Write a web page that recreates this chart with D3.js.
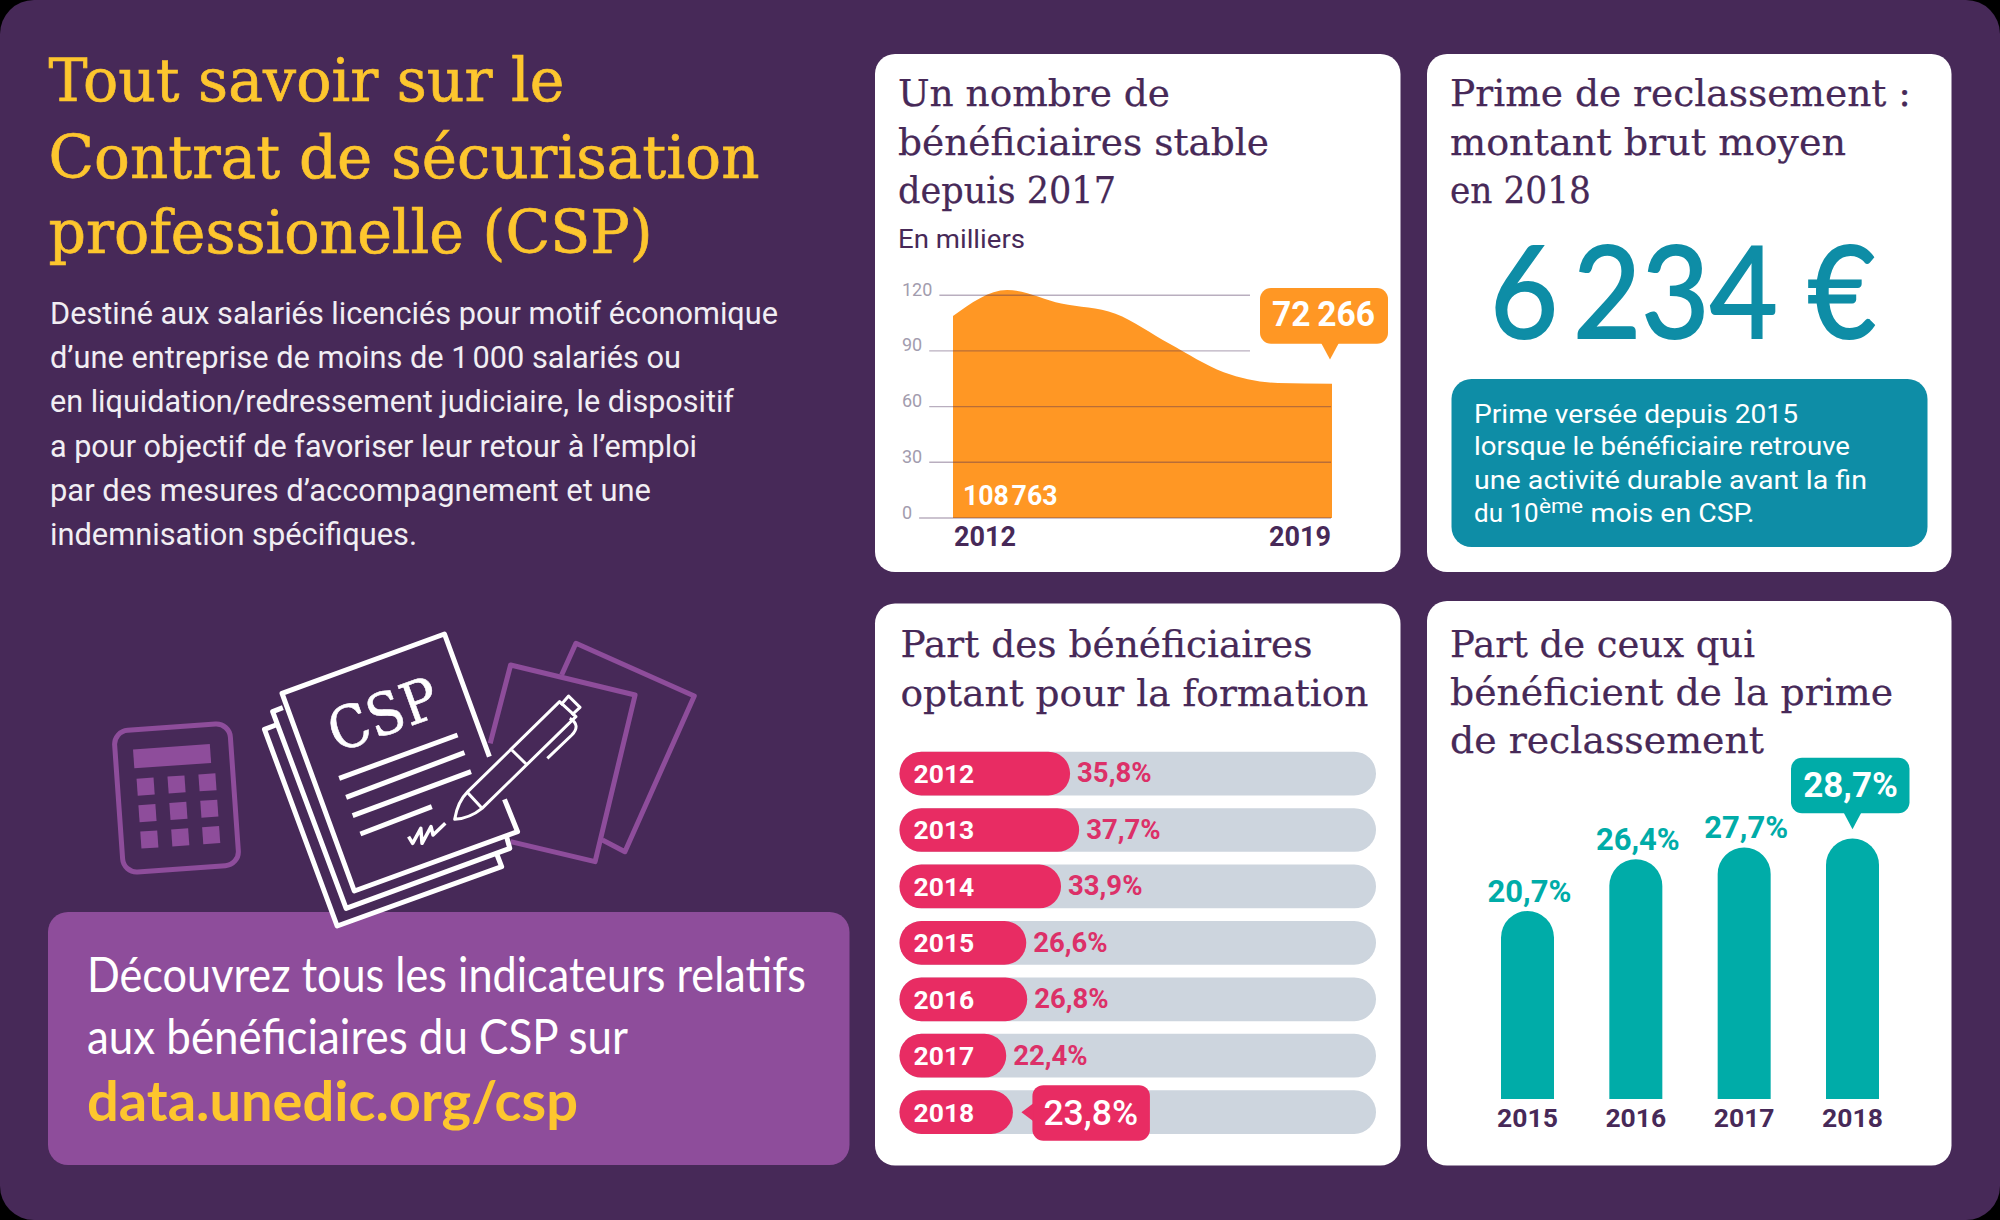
<!DOCTYPE html>
<html lang="fr"><head><meta charset="utf-8">
<style>html,body{margin:0;padding:0;background:#000}svg{display:block}text{white-space:pre}</style>
<script src="https://cdn.jsdelivr.net/npm/d3@7"></script></head>
<body><svg id="c" width="2000" height="1220" xmlns="http://www.w3.org/2000/svg"></svg>
<script>
// ---- data ----
const areaYears = [2012,2013,2014,2015,2016,2017,2018,2019];
const areaValues = [108.763,122.8,115.5,110,93.8,78.5,72.7,72.266];
const areaTicks = [0,30,60,90,120];
const formationYears = ["2012","2013","2014","2015","2016","2017","2018"];
const formationValues = [35.8,37.7,33.9,26.6,26.8,22.4,23.8];
const repriseYears = ["2015","2016","2017","2018"];
const repriseValues = [20.7,26.4,27.7,28.7];
const fmt = v => String(v).replace(".",",")+"%";

const C = {bg:"#472958",gold:"#fdc62e",violet:"#8e4d9b",orange:"#ff9724",pink:"#e82c63",pinkT:"#dc3068",
           track:"#cdd5de",teal:"#00aca8",blue:"#0e8da6",tick:"#a29cae"};
const ROBOTO="Roboto", SLAB="'DejaVu Serif'", ROUND="Lato";
const svg = d3.select("#c");

function T(g,s,x,y,o={}){
  const t=g.append("text").attr("x",x).attr("y",y).text(s)
    .attr("font-family",o.f||ROBOTO).attr("font-size",o.s||26).attr("font-weight",o.w||400)
    .attr("fill",o.c||C.bg).attr("text-anchor",o.a||"start");
  if(o.len) t.attr("textLength",o.len).attr("lengthAdjust","spacingAndGlyphs");
  if(o.sw) t.attr("stroke",o.c||C.bg).attr("stroke-width",o.sw);
  return t;
}
const card=(x0,y0,x1,y1)=>svg.append("rect").attr("x",x0).attr("y",y0).attr("width",x1-x0).attr("height",y1-y0).attr("rx",20).attr("fill","#fff");

// frame
svg.append("rect").attr("width",2000).attr("height",1220).attr("rx",34).attr("fill",C.bg);

// ---- left column ----
const left=svg.append("g");
[["Tout savoir sur le",100.5,516],["Contrat de sécurisation",177.5,711],["professionelle (CSP)",252.5,604]]
 .forEach(([s,y,l])=>T(left,s,48.5,y,{f:SLAB,s:60,c:C.gold,len:l,sw:.7}));
[["Destiné aux salariés licenciés pour motif économique",324,728],
 ["d’une entreprise de moins de 1\u2009000 salariés ou",367.5,631],
 ["en liquidation/redressement judiciaire, le dispositif",412,684],
 ["a pour objectif de favoriser leur retour à l’emploi",456.5,647],
 ["par des mesures d’accompagnement et une",501,601],
 ["indemnisation spécifiques.",545,367]]
 .forEach(([s,y,l])=>T(left,s,50,y,{s:30.5,c:"#f1eef3",w:400,len:l}));

// CTA
svg.append("rect").attr("x",48).attr("y",912).attr("width",801.5).attr("height",253).attr("rx",20).attr("fill",C.violet);
T(svg,"Découvrez tous les indicateurs relatifs",87,992,{f:ROUND,s:48,c:"#fff",len:719});
T(svg,"aux bénéficiaires du CSP sur",87,1054,{f:ROUND,s:48,c:"#fff",len:541});
T(svg,"data.unedic.org/csp",87,1121,{f:ROUND,s:56,w:700,c:C.gold,len:491});

// ---- illustration ----
const ns=a=>a.attr("vector-effect","non-scaling-stroke");
const ill=svg.append("g").attr("transform","translate(80,610) scale(0.40816,0.33333)");
const P=(d,st,w,fill)=>ns(ill.append("path").attr("d",d).attr("fill",fill||"none").attr("stroke",st).attr("stroke-width",w).attr("stroke-linejoin","round").attr("stroke-linecap","butt"));
// calculator
const calc=svg.append("g").attr("transform","translate(176.5,798) rotate(-4)");
calc.append("rect").attr("x",-58).attr("y",-71).attr("width",116).attr("height",142).attr("rx",14).attr("fill","none").attr("stroke",C.violet).attr("stroke-width",5);
calc.append("rect").attr("x",-40).attr("y",-51.5).attr("width",77).attr("height",19).attr("fill",C.violet);
[-30,1,32].forEach(x=>[-13.5,13,39.5].forEach(y=>calc.append("rect").attr("x",x-8.5).attr("y",y-8.5).attr("width",17).attr("height",17).attr("fill",C.violet)));
// back sheets
P("M1180,195 L1215,100 L1505,258 L1335,725 L1280,690",C.violet,5);
P("M1005,400 L1055,165 L1360,255 L1262,755 L1055,695",C.violet,5);
// pages
P("M480,345 L452,358 L630,948 L1033,770 L1022,735",  "#fff",5,C.bg);
P("M497,293 L472,305 L652,895 L1053,715 L1045,680",  "#fff",5,C.bg);
P("M1003,440 L893,72 L495,250 L672,843 L1072,665 L1040,568","#fff",5,C.bg);
[[635,505,925,375],[652,562,942,428],[668,617,958,485],[687,672,862,590]]
 .forEach(([a,b,c,d])=>P(`M${a},${b} L${c},${d}`,"#fff",5));
P("M805,680 L815,700 L835,655 L838,700 L860,650 L865,675 L895,640","#fff",3.5);
T(svg,"CSP",337,753,{f:SLAB,s:58,c:"#fff",sw:.6}).attr("transform","rotate(-20 337 753)").attr("textLength",113).attr("lengthAdjust","spacingAndGlyphs");
// pen
P("M918,628 Q925,575 950,545 L1175,275 L1215,320 L985,595 Q955,625 918,628 Z","#fff",3,C.bg);
P("M950,548 L985,595 M1058,420 L1093,462 M1178,285 L1197,258 L1225,292 L1205,315 M1200,325 Q1228,345 1205,375 L1145,445","#fff",3);

// ---- card 1 : area ----
card(875,54,1400.5,572);
const c1=svg.append("g");
[["Un nombre de",106,272],["bénéficiaires stable",154.5,371],["depuis 2017",202.5,218]]
 .forEach(([s,y,l])=>T(c1,s,898,y,{f:SLAB,s:38,len:l,sw:.25}));
T(c1,"En milliers",898,247.5,{s:26,len:127});
const xA=d3.scaleLinear().domain([2012,2019]).range([953,1332]);
const yA=d3.scaleLinear().domain([0,120]).range([518,295.2]);
const area=d3.area().x((d,i)=>xA(areaYears[i])).y0(yA(0)).y1(d=>yA(d)).curve(d3.curveMonotoneX);
c1.append("path").attr("d",area(areaValues)).attr("fill",C.orange);
areaTicks.forEach(t=>{
  const lab=T(c1,String(t),902,yA(t)+0.5,{s:18,c:C.tick});
  const w=lab.node().getComputedTextLength();
  const x2=t>=90?1250:1331;
  c1.append("line").attr("x1",902+w+7).attr("x2",x2).attr("y1",yA(t)).attr("y2",yA(t))
    .attr("stroke",C.bg).attr("stroke-opacity",.38).attr("stroke-width",1.4);
});
T(c1,"108\u200a763",963,505,{s:28,w:700,c:"#fff",len:94.5});
T(c1,String(areaYears[0]),954,545.5,{s:27,w:700});
T(c1,String(areaYears[7]),1331,545.5,{s:27,w:700,a:"end"});
function bubble(g,x0,y0,x1,y1,fill,side,tx,ty){
  g.append("rect").attr("x",x0).attr("y",y0).attr("width",x1-x0).attr("height",y1-y0).attr("rx",11).attr("fill",fill);
  const d=side==="down"?`M${tx-9},${y1-1} L${tx+9},${y1-1} L${tx},${ty} Z`:`M${x0+1},${ty-9} L${x0+1},${ty+9} L${tx},${ty} Z`;
  g.append("path").attr("d",d).attr("fill",fill);
}
bubble(c1,1260,288,1388,343.7,C.orange,"down",xA(2019)-2,359.6);
T(c1,"72\u2009266",1272,325.8,{s:35,w:700,c:"#fff",len:103});

// ---- card 2 : prime ----
card(1427,54,1951.5,572);
const c2=svg.append("g");
[["Prime de reclassement :",106,461],["montant brut moyen",154.5,396],["en 2018",202.5,141]]
 .forEach(([s,y,l])=>T(c2,s,1450,y,{f:SLAB,s:38,len:l,sw:.25}));
T(c2,"6\u2009234 €",1490,338,{f:ROUND,s:128,c:C.blue,len:386,sw:2});
c2.append("rect").attr("x",1451.5).attr("y",379).attr("width",476).attr("height",168).attr("rx",20).attr("fill",C.blue);
[["Prime versée depuis 2015",422.5,324],["lorsque le bénéficiaire retrouve",455,376],["une activité durable avant la fin",488.5,393]]
 .forEach(([s,y,l])=>T(c2,s,1474,y,{s:26,c:"#fff",len:l}));
T(c2,"du 10",1474,522,{s:26,c:"#fff"});
T(c2,"ème",1539,513,{s:20,c:"#fff",len:44});
T(c2,"mois en CSP.",1590.5,522,{s:26,c:"#fff",len:164});

// ---- card 3 : horizontal bars ----
card(875,603.5,1400.5,1165.5);
const c3=svg.append("g");
[["Part des bénéficiaires",657,412],["optant pour la formation",705.5,468]]
 .forEach(([s,y,l])=>T(c3,s,900.5,y,{f:SLAB,s:38,len:l,sw:.25}));
const xF=d3.scaleLinear().domain([0,100]).range([899.5,1376]);
const yF=d3.scaleBand().domain(formationYears).range([745.35,1140.35]).paddingInner(0.225).paddingOuter(0.1125);
const rowsF=c3.selectAll("g.r").data(formationYears).join("g").attr("class","r");
rowsF.append("rect").attr("x",xF(0)).attr("y",d=>yF(d)).attr("width",xF(100)-xF(0)).attr("height",yF.bandwidth()).attr("rx",21.8).attr("fill",C.track);
rowsF.append("rect").attr("x",xF(0)).attr("y",d=>yF(d)).attr("width",(d,i)=>xF(formationValues[i])-xF(0)).attr("height",yF.bandwidth()).attr("rx",21.8).attr("fill",C.pink);
rowsF.each(function(d,i){
  const g=d3.select(this), yc=yF(d)+yF.bandwidth()/2, xe=xF(formationValues[i]);
  T(g,d,913.5,yc+9.5,{s:26.5,w:700,c:"#fff"});
  if(i<formationYears.length-1) T(g,fmt(formationValues[i]),xe+7,yc+8.8,{s:27.5,w:700,c:C.pinkT});
  else {
    bubble(g,xe+19.5,yc-27,xe+137,yc+28.5,C.pink,"left",xe+8.5,yc);
    T(g,fmt(formationValues[i]),xe+30.5,yc+13,{s:35.5,w:500,c:"#fff"});
  }
});

// ---- card 4 : vertical bars ----
card(1427,601,1951.5,1165.5);
const c4=svg.append("g");
[["Part de ceux qui",657,305],["bénéficient de la prime",705,443],["de reclassement",753,314]]
 .forEach(([s,y,l])=>T(c4,s,1450,y,{f:SLAB,s:38,len:l,sw:.25}));
const xR=d3.scalePoint().domain(repriseYears).range([1527.5,1852.5]);
const yR=d3.scaleLinear().domain([0,30]).range([1099,826.6]);
const bw=53;
repriseYears.forEach((d,i)=>{
  const v=repriseValues[i], cx=xR(d), top=yR(v), r=bw/2;
  c4.append("path").attr("d",`M${cx-r},${yR(0)} V${top+r} A${r},${r} 0 0 1 ${cx+r},${top+r} V${yR(0)} Z`).attr("fill",C.teal);
  T(c4,d,cx,1126.7,{s:26.5,w:700,a:"middle"});
  if(i<repriseYears.length-1) T(c4,fmt(v),cx+2,top-9.5,{s:31,w:700,c:C.teal,a:"middle"});
  else {
    bubble(c4,cx-61.5,757.7,cx+57,813.3,C.teal,"down",cx,829.3);
    T(c4,fmt(v),cx-2,796.7,{s:35,w:700,c:"#fff",a:"middle"});
  }
});
</script></body></html>
